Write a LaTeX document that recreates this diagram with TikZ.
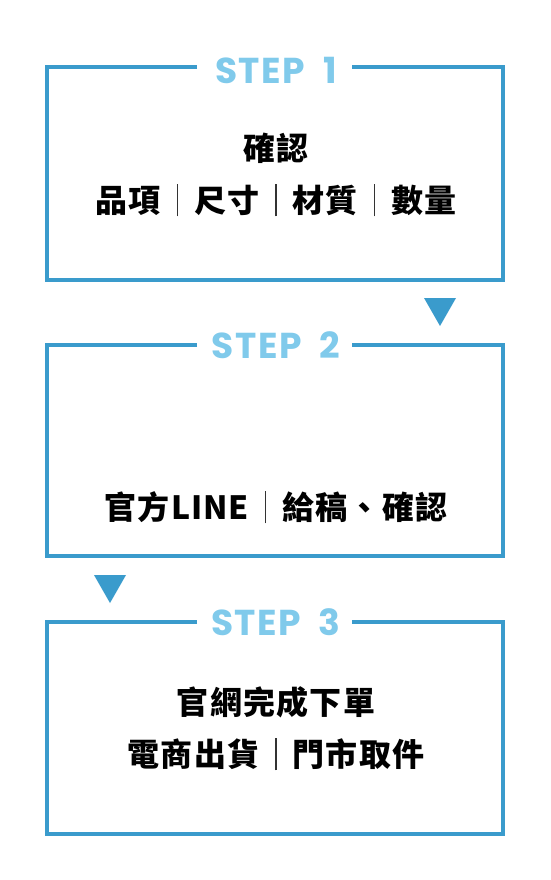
\documentclass[tikz,border=0pt]{standalone}
\usepackage{fontspec}
\newfontfamily\cjk{Noto Sans CJK TC}[LetterSpace=4]
\newfontfamily\stepfnt{Poppins}[LetterSpace=4]
\definecolor{bord}{HTML}{3A9BCC}
\definecolor{steptxt}{HTML}{80CAEB}
\definecolor{sepcol}{HTML}{333333}
\newcommand{\sep}{\makebox[1.04em]{\color{sepcol}\rule[-0.12em]{1.4pt}{1.02em}}}
\begin{document}
\begin{tikzpicture}[x=1pt,y=-1pt,
  frame/.style={draw=bord,line width=4pt,line join=miter},
  steplabel/.style={text=steptxt,font=\stepfnt\bfseries\fontsize{36}{40}\selectfont,anchor=base,inner sep=0pt},
  body/.style={font=\cjk\bfseries\fontsize{32}{36}\selectfont,text=black,anchor=center,inner sep=0pt},
  tri/.style={fill=bord}]
\useasboundingbox (0,0) rectangle (550,880);
% box 1
\coordinate (g1l) at (197,67); \coordinate (g1r) at (352,67);
\draw[frame] (g1l) -- (47,67) -- (47,280) -- (503,280) -- (503,67) -- (g1r);
\node[steplabel] (s1) at (276,84) {STEP\hspace{0.5em}1};
\node[body] (t1a) at (276,148.5) {確認};
\node[body] (t1b) at (276,200) {品項\sep 尺寸\sep 材質\sep 數量};
\fill[tri] (424,298) coordinate (a1l) -- (456,298) coordinate (a1r) -- (440,326) coordinate (a1t) -- cycle;
% box 2
\coordinate (g2l) at (197,345); \coordinate (g2r) at (352,345);
\draw[frame] (g2l) -- (47,345) -- (47,556) -- (503,556) -- (503,345) -- (g2r);
\node[steplabel] (s2) at (276,358) {STEP\hspace{0.5em}2};
\node[body] (t2a) at (276,507) {官方L\kern1ptI\kern1ptN\kern1ptE\sep 給稿、確認};
\fill[tri] (94,575) coordinate (a2l) -- (126,575) coordinate (a2r) -- (110,603) coordinate (a2t) -- cycle;
% box 3
\coordinate (g3l) at (197,622); \coordinate (g3r) at (352,622);
\draw[frame] (g3l) -- (47,622) -- (47,834) -- (503,834) -- (503,622) -- (g3r);
\node[steplabel] (s3) at (276,635) {STEP\hspace{0.5em}3};
\node[body] (t3a) at (276,702.5) {官網完成下單};
\node[body] (t3b) at (276,754) {電商出貨\sep 門市取件};
\end{tikzpicture}
\end{document}
